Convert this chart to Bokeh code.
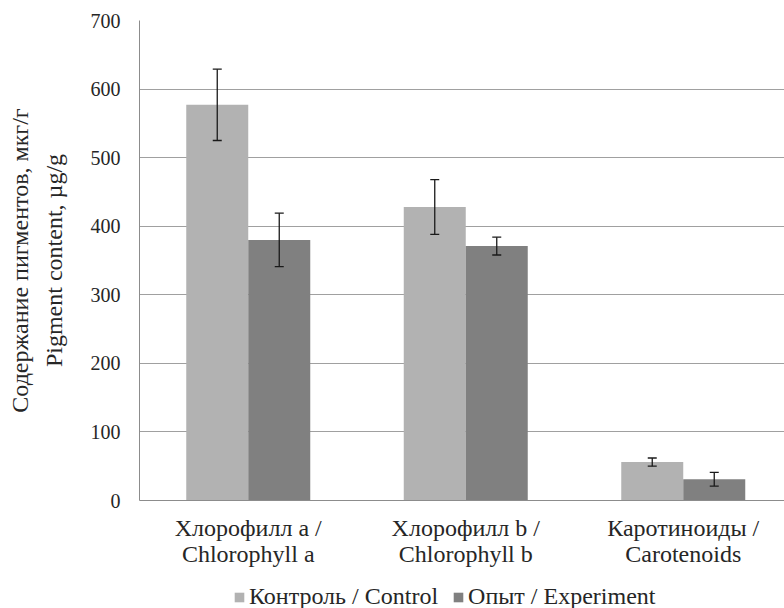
from bokeh.plotting import figure
from bokeh.layouts import column
from bokeh.models import (ColumnDataSource, Range1d, FixedTicker, Whisker, TeeHead,
                          Legend, LegendItem)
from bokeh.embed import file_html
from bokeh.resources import INLINE

# ---- data ----
categories = ["Хлорофилл a /\nChlorophyll a", "Хлорофилл b /\nChlorophyll b",
              "Каротиноиды /\nCarotenoids"]
control = [577, 428, 56]
control_err = [52, 40, 6]
experiment = [380, 371, 31]
experiment_err = [39, 13, 10]
y_ticks = [0, 100, 200, 300, 400, 500, 600, 700]
series_names = ["Контроль / Control", "Опыт / Experiment"]
y_title = ["Содержание пигментов, мкг/г", "Pigment content, µg/g"]

FONT = "Liberation Serif"
TXT = "#262626"
C_CTRL = "#B2B2B2"
C_EXP = "#808080"
FS = 24

centers = [i + 0.5 for i in range(len(control))]
bw = 62 / 217.5

p = figure(width=784, height=570, output_backend="svg", toolbar_location=None,
           x_range=Range1d(0, 645 / 217.5), y_range=Range1d(0, 700),
           min_border_left=139, min_border_right=0, min_border_top=20,
           min_border_bottom=70)
p.outline_line_color = None

src_c = ColumnDataSource(dict(x=[c - bw / 2 for c in centers], top=control,
                              upper=[v + e for v, e in zip(control, control_err)],
                              lower=[v - e for v, e in zip(control, control_err)]))
src_e = ColumnDataSource(dict(x=[c + bw / 2 for c in centers], top=experiment,
                              upper=[v + e for v, e in zip(experiment, experiment_err)],
                              lower=[v - e for v, e in zip(experiment, experiment_err)]))

r_c = p.vbar(x="x", top="top", width=bw, source=src_c, fill_color=C_CTRL, line_color=None)
r_e = p.vbar(x="x", top="top", width=bw, source=src_e, fill_color=C_EXP, line_color=None)

for src in (src_c, src_e):
    w = Whisker(source=src, base="x", upper="upper", lower="lower", dimension="height",
                line_color="#1a1a1a", line_width=1.3, level="overlay",
                upper_head=TeeHead(size=9, line_color="#1a1a1a", line_width=1.3),
                lower_head=TeeHead(size=9, line_color="#1a1a1a", line_width=1.3))
    p.add_layout(w)

# y axis
p.yaxis.ticker = FixedTicker(ticks=y_ticks)
p.yaxis.major_tick_out = 0
p.yaxis.major_tick_in = 0
p.yaxis.minor_tick_out = 0
p.yaxis.minor_tick_in = 0
p.yaxis.major_label_standoff = 19
p.yaxis.major_label_text_font = FONT
p.yaxis.major_label_text_font_size = "20px"
p.yaxis.major_label_text_color = TXT
p.yaxis.axis_line_color = "#8C8C8C"
p.yaxis.axis_label = "\n".join(y_title)
p.yaxis.axis_label_text_font = FONT
p.yaxis.axis_label_text_font_size = f"{FS}px"
p.yaxis.axis_label_text_font_style = "normal"
p.yaxis.axis_label_text_color = TXT
p.yaxis.axis_label_text_line_height = 1.3
p.yaxis.axis_label_standoff = 21

# x axis with category labels
p.xaxis.ticker = FixedTicker(ticks=centers)
p.xaxis.major_label_overrides = {c: t for c, t in zip(centers, categories)}
p.xaxis.axis_line_color = "#8C8C8C"
p.xaxis.major_tick_out = 0
p.xaxis.major_tick_in = 0
p.xaxis.minor_tick_out = 0
p.xaxis.minor_tick_in = 0
p.xaxis.major_label_standoff = 14
p.xaxis.major_label_text_font = FONT
p.xaxis.major_label_text_font_size = f"{FS}px"
p.xaxis.major_label_text_color = TXT
p.xaxis.major_label_text_line_height = 1.0

p.ygrid.ticker = FixedTicker(ticks=y_ticks)
p.ygrid.grid_line_color = "#A0A0A0"
p.xgrid.visible = False

# legend strip below the chart (its bars lie below its visible y range)
p2 = figure(width=784, height=38, output_backend="svg", toolbar_location=None,
            x_range=Range1d(0, 1), y_range=Range1d(1000, 1001),
            min_border_left=0, min_border_right=0, min_border_top=0, min_border_bottom=0)
p2.outline_line_color = None
p2.axis.visible = False
p2.grid.visible = False
k_c = p2.vbar(x="x", top="top", width=bw, source=src_c, fill_color=C_CTRL, line_color=None)
k_e = p2.vbar(x="x", top="top", width=bw, source=src_e, fill_color=C_EXP, line_color=None)
legend = Legend(items=[LegendItem(label=series_names[0], renderers=[k_c]),
                       LegendItem(label=series_names[1], renderers=[k_e])],
                location=(94, -2), orientation="horizontal",
                glyph_width=12, glyph_height=12, label_standoff=4, spacing=14,
                padding=0, margin=0, border_line_color=None, background_fill_alpha=0,
                label_text_font=FONT, label_text_font_size=f"{FS}px",
                label_text_color=TXT)
p2.add_layout(legend)

layout = column(p, p2, spacing=0)
open("out.html", "w").write(file_html(layout, INLINE))
